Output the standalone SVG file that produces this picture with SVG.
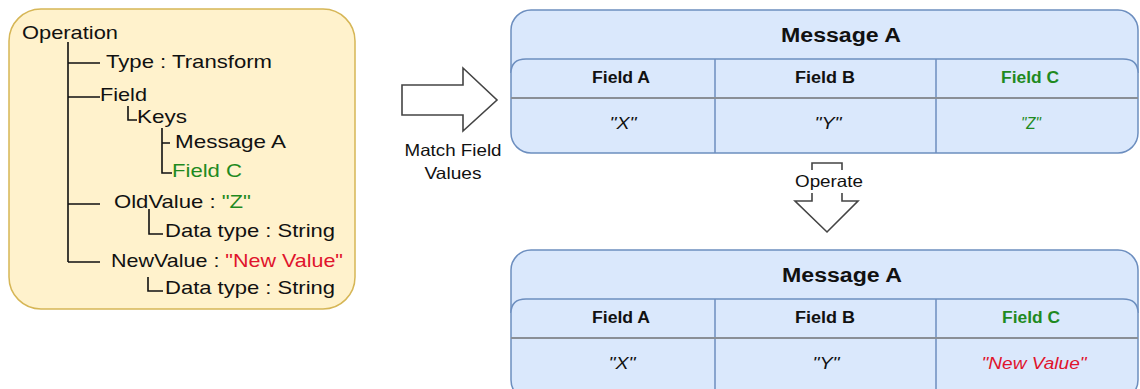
<svg xmlns="http://www.w3.org/2000/svg" width="1140" height="389" viewBox="0 0 1140 389">
  <style>
    .t { font-family: "Liberation Sans", Arial, sans-serif; fill: #111; }
    .tree { font-size: 19px; }
    .branch { fill: none; stroke: #111; stroke-width: 1.6; }
    .box { fill: #fff2cc; stroke: #d6b656; stroke-width: 1.5; }
    .tbl { fill: #dae8fc; stroke: #6c8ebf; stroke-width: 1.5; }
    .col { stroke: #6c8ebf; stroke-width: 1.5; }
    .rowline { stroke: #8a8f96; stroke-width: 1.8; }
    .title { font-size: 20px; font-weight: bold; text-anchor: middle; }
    .head { font-size: 16px; font-weight: bold; text-anchor: middle; }
    .val { font-size: 16px; font-style: italic; text-anchor: middle; }
    .lbl { font-size: 16.5px; text-anchor: middle; }
    .green { fill: #1f8a1f; }
    .red { fill: #e0142c; }
    .blockarrow { fill: #fff; stroke: #444; stroke-width: 1.6; stroke-linejoin: miter; }
  </style>

  <!-- operation tree -->
  <g id="operation-tree">
    <rect class="box" x="9" y="9" width="346" height="300" rx="32" ry="32"/>
    <path class="branch" d="M68,42 V262 M68,63 H100 M68,97 H100 M68,204 H100 M68,262 H100"/>
    <path class="branch" d="M128,106 V120 H137"/>
    <path class="branch" d="M162,128 V173 H172 M162,143 H170"/>
    <path class="branch" d="M149,209 V234 H163"/>
    <path class="branch" d="M148,277 V291 H163"/>
    <text class="t tree" x="22" y="39" textLength="96" lengthAdjust="spacingAndGlyphs">Operation</text>
    <text class="t tree" x="106" y="68" textLength="166" lengthAdjust="spacingAndGlyphs">Type : Transform</text>
    <text class="t tree" x="100" y="101" textLength="47" lengthAdjust="spacingAndGlyphs">Field</text>
    <text class="t tree" x="137" y="123" textLength="50" lengthAdjust="spacingAndGlyphs">Keys</text>
    <text class="t tree" x="175" y="148" textLength="111" lengthAdjust="spacingAndGlyphs">Message A</text>
    <text class="t tree green" x="172" y="177" textLength="70" lengthAdjust="spacingAndGlyphs">Field C</text>
    <text class="t tree" x="114" y="208" textLength="137" lengthAdjust="spacingAndGlyphs">OldValue : <tspan class="green">"Z"</tspan></text>
    <text class="t tree" x="165" y="237" textLength="170" lengthAdjust="spacingAndGlyphs">Data type : String</text>
    <text class="t tree" x="111" y="267" textLength="232" lengthAdjust="spacingAndGlyphs">NewValue : <tspan class="red">"New Value"</tspan></text>
    <text class="t tree" x="165" y="294" textLength="170" lengthAdjust="spacingAndGlyphs">Data type : String</text>
  </g>

  <!-- Message A, before the operation -->
  <g id="message-a-before">
    <rect class="tbl" x="511" y="10" width="627" height="143" rx="20" ry="20"/>
    <path class="tbl" d="M511,73 Q511,59 526,59 H1123 Q1138,59 1138,73"/>
    <line class="col" x1="715" y1="59" x2="715" y2="153"/>
    <line class="col" x1="936" y1="59" x2="936" y2="153"/>
    <line class="rowline" x1="511" y1="98" x2="1138" y2="98"/>
    <text class="t title" x="841" y="42" textLength="120" lengthAdjust="spacingAndGlyphs">Message A</text>
    <text class="t head" x="621" y="83" textLength="58" lengthAdjust="spacingAndGlyphs">Field A</text>
    <text class="t head" x="825" y="83" textLength="60" lengthAdjust="spacingAndGlyphs">Field B</text>
    <text class="t head green" x="1030" y="83" textLength="58" lengthAdjust="spacingAndGlyphs">Field C</text>
    <text class="t val" x="623" y="129" textLength="27" lengthAdjust="spacingAndGlyphs">"X"</text>
    <text class="t val" x="828" y="129" textLength="27" lengthAdjust="spacingAndGlyphs">"Y"</text>
    <text class="t val green" x="1031" y="129" textLength="20" lengthAdjust="spacingAndGlyphs">"Z"</text>
  </g>

  <!-- Message A, after the operation -->
  <g id="message-a-after">
    <rect class="tbl" x="511" y="250" width="627" height="150" rx="20" ry="20"/>
    <path class="tbl" d="M511,313 Q511,299 526,299 H1123 Q1138,299 1138,313"/>
    <line class="col" x1="715" y1="299" x2="715" y2="400"/>
    <line class="col" x1="936" y1="299" x2="936" y2="400"/>
    <line class="rowline" x1="511" y1="338" x2="1138" y2="338"/>
    <text class="t title" x="842" y="282" textLength="120" lengthAdjust="spacingAndGlyphs">Message A</text>
    <text class="t head" x="621" y="323" textLength="58" lengthAdjust="spacingAndGlyphs">Field A</text>
    <text class="t head" x="825" y="323" textLength="60" lengthAdjust="spacingAndGlyphs">Field B</text>
    <text class="t head green" x="1031" y="323" textLength="58" lengthAdjust="spacingAndGlyphs">Field C</text>
    <text class="t val" x="622" y="369" textLength="27" lengthAdjust="spacingAndGlyphs">"X"</text>
    <text class="t val" x="826" y="369" textLength="27" lengthAdjust="spacingAndGlyphs">"Y"</text>
    <text class="t val red" x="1034" y="369" textLength="105" lengthAdjust="spacingAndGlyphs">"New Value"</text>
  </g>

  <!-- block arrows -->
  <g id="connectors">
    <g id="match-arrow">
      <path class="blockarrow" d="M402,85 H463 V68 L497,100 L463,131 V115 H402 Z"/>
      <text class="t lbl" x="453" y="156" textLength="97" lengthAdjust="spacingAndGlyphs">Match Field</text>
      <text class="t lbl" x="453" y="179" textLength="57" lengthAdjust="spacingAndGlyphs">Values</text>
    </g>
    <g id="operate-arrow">
      <path class="blockarrow" d="M812,163 H842 V201 H858 L827,232 L795,201 H812 Z"/>
      <rect x="795" y="170" width="68" height="23" fill="#fff"/>
      <text class="t lbl" x="829" y="187" textLength="68" lengthAdjust="spacingAndGlyphs">Operate</text>
    </g>
  </g>
</svg>
